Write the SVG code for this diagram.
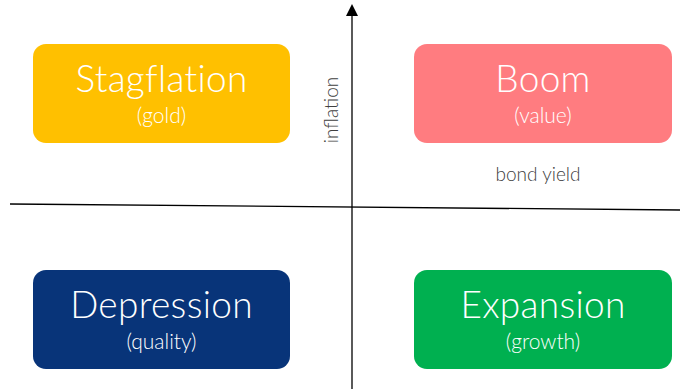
<svg xmlns="http://www.w3.org/2000/svg" width="680" height="389" viewBox="0 0 680 389">
<style>
.box{stroke:none}
.t{font-family:Lato,"Open Sans",sans-serif;font-weight:300;fill:#fff;text-anchor:middle}
.big{font-size:37px;letter-spacing:0.3px}
.small{font-size:21px}
.lbl{font-family:Lato,"Open Sans",sans-serif;font-weight:300;fill:#404040;font-size:19px;text-anchor:middle}
.ax{stroke:#000;stroke-width:1.3;fill:none}
</style>
<rect width="680" height="389" fill="#fff"/>
<g id="connectors">
<line class="ax" x1="352" y1="389" x2="352" y2="12"/>
<path d="M346,16 L352,4 L358,16 Z" fill="#000"/>
<line class="ax" x1="10" y1="204" x2="680" y2="210"/>
</g>
<g id="stagflation">
<rect class="box" x="33" y="44" width="257" height="99" rx="13" fill="#FFC000"/>
<text class="t big" x="161.5" y="92">Stagflation</text>
<text class="t small" x="161.5" y="123">(gold)</text>
</g>
<g id="boom">
<rect class="box" x="414" y="44" width="258" height="99" rx="13" fill="#FF7C80"/>
<text class="t big" x="543" y="92">Boom</text>
<text class="t small" x="543" y="123">(value)</text>
</g>
<g id="depression">
<rect class="box" x="33" y="270" width="257" height="99" rx="13" fill="#083479"/>
<text class="t big" x="161.5" y="318">Depression</text>
<text class="t small" x="161.5" y="349">(quality)</text>
</g>
<g id="expansion">
<rect class="box" x="414" y="270" width="258" height="99" rx="13" fill="#00B050"/>
<text class="t big" x="543" y="318">Expansion</text>
<text class="t small" x="543" y="349">(growth)</text>
</g>
<g id="labels">
<text class="lbl" transform="translate(338,110) rotate(-90)">inflation</text>
<text class="lbl" x="538" y="181">bond yield</text>
</g>
</svg>
